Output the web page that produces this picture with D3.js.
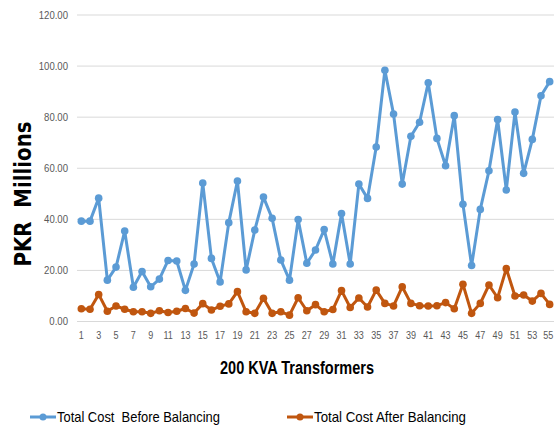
<!DOCTYPE html>
<html>
<head>
<meta charset="utf-8">
<script src="https://cdn.jsdelivr.net/npm/d3@7/dist/d3.min.js"></script>
<style>
  html, body { margin: 0; padding: 0; background: #fff; }
  svg { display: block; }
</style>
</head>
<body>
<svg id="chart" width="554" height="428"></svg>
<script>
// Transformer numbers 1..55
const transformers = d3.range(1, 56);

// Total cost before balancing (PKR millions)
const costBefore = [
  39.1, 39.1, 48.1, 16.0, 21.1, 35.2, 13.2, 19.4, 13.4, 16.4,
  23.7, 23.5, 12.0, 22.3, 54.0, 24.5, 15.3, 38.5, 54.8, 20.0,
  35.6, 48.5, 40.2, 23.9, 16.0, 39.7, 22.6, 27.8, 35.8, 22.3,
  42.1, 22.3, 53.6, 48.0, 68.1, 98.2, 81.0, 53.6, 72.3, 77.8,
  93.3, 71.5, 60.8, 80.4, 45.7, 21.7, 43.7, 58.8, 78.9, 51.3,
  81.8, 57.8, 71.1, 88.2, 93.7
];

// Total cost after balancing (PKR millions)
const costAfter = [
  4.8, 4.6, 10.4, 3.8, 5.9, 4.6, 3.6, 3.6, 3.0, 4.0,
  3.3, 3.8, 4.9, 3.1, 6.8, 4.3, 5.8, 6.7, 11.5, 3.6,
  3.0, 8.9, 3.0, 3.6, 2.3, 9.1, 4.0, 6.4, 3.6, 4.5,
  11.9, 5.3, 9.0, 5.5, 12.1, 6.9, 5.9, 13.4, 6.9, 6.0,
  5.9, 6.0, 7.2, 4.8, 14.4, 3.0, 6.9, 14.1, 9.1, 20.5,
  9.8, 10.2, 7.8, 10.8, 6.5
];

const yTicks = [0, 20, 40, 60, 80, 100, 120];
const xTickLabels = transformers.filter(n => n % 2 === 1);

const seriesNames = ["Total Cost  Before Balancing", "Total Cost After Balancing"];
const seriesColors = ["#5B9BD5", "#C0560F"];

const svg = d3.select("#chart");
const margin = { left: 77, right: 0, top: 14.5, bottom: 107 };
const W = 554, H = 428;

const x = d3.scaleBand()
  .domain(transformers)
  .range([margin.left, W - margin.right])
  .paddingInner(0).paddingOuter(0);

const y = d3.scaleLinear()
  .domain([0, 120])
  .range([H - margin.bottom, margin.top]);

const axisFont = "'Liberation Sans', Arial, sans-serif";

// Squeeze text horizontally to give a condensed face
function condense(sel, factor) {
  sel.each(function () {
    const len = this.getComputedTextLength();
    d3.select(this)
      .attr("textLength", len * factor)
      .attr("lengthAdjust", "spacingAndGlyphs");
  });
}

// Horizontal gridlines with y tick labels
const yAxis = d3.axisLeft(y)
  .tickValues(yTicks)
  .tickSize(-(W - margin.right - margin.left))
  .tickPadding(9)
  .tickFormat(d3.format(".2f"));

const gy = svg.append("g")
  .attr("transform", `translate(${margin.left},0)`)
  .call(yAxis);
gy.select(".domain").remove();
gy.selectAll(".tick line").attr("stroke", "#D9D9D9").attr("stroke-width", 1);
gy.selectAll(".tick text")
  .attr("fill", "#595959")
  .style("font-family", axisFont)
  .style("font-size", "11px")
  .call(condense, 0.87);

// Category axis: odd transformer numbers only
const xAxis = d3.axisBottom(x)
  .tickValues(xTickLabels)
  .tickSize(0)
  .tickPadding(10);

const gx = svg.append("g")
  .attr("transform", `translate(0,${y(0)})`)
  .call(xAxis);
gx.select(".domain").remove();
gx.selectAll(".tick text")
  .attr("fill", "#595959")
  .style("font-family", axisFont)
  .style("font-size", "11px")
  .call(condense, 0.82);
// keep the last label inside the right edge
gx.selectAll(".tick text")
  .filter(d => d === transformers[transformers.length - 1])
  .attr("dx", -1.5);

// Series lines with round markers
const cx = d => x(d) + x.bandwidth() / 2;
const line = d3.line()
  .x((d, i) => cx(transformers[i]))
  .y(d => y(d));

[costBefore, costAfter].forEach((vals, si) => {
  const g = svg.append("g");
  g.append("path")
    .datum(vals)
    .attr("fill", "none")
    .attr("stroke", seriesColors[si])
    .attr("stroke-width", 3)
    .attr("stroke-linejoin", "round")
    .attr("d", line);
  g.selectAll("circle")
    .data(vals)
    .join("circle")
    .attr("cx", (d, i) => cx(transformers[i]))
    .attr("cy", d => y(d))
    .attr("r", 3.8)
    .attr("fill", seriesColors[si]);
});

// Axis titles
svg.append("text")
  .attr("x", 297)
  .attr("y", 374)
  .attr("text-anchor", "middle")
  .attr("fill", "#000")
  .style("font-family", axisFont)
  .style("font-weight", "bold")
  .style("font-size", "18px")
  .attr("textLength", 154)
  .attr("lengthAdjust", "spacingAndGlyphs")
  .text("200 KVA Transformers");

svg.append("text")
  .attr("transform", "translate(31,194) rotate(-90)")
  .attr("text-anchor", "middle")
  .attr("fill", "#000")
  .style("font-family", "'DejaVu Sans', sans-serif")
  .style("font-weight", "bold")
  .style("font-size", "23px")
  .style("white-space", "pre")
  .attr("textLength", 145)
  .attr("lengthAdjust", "spacingAndGlyphs")
  .text("PKR  Millions");

// Legend
const legendItems = [
  { name: seriesNames[0], color: seriesColors[0], x: 30, w: 163 },
  { name: seriesNames[1], color: seriesColors[1], x: 287, w: 152 }
];
const lg = svg.append("g");
legendItems.forEach(it => {
  const g = lg.append("g").attr("transform", `translate(${it.x},417)`);
  g.append("line")
    .attr("x1", 0).attr("x2", 26)
    .attr("stroke", it.color).attr("stroke-width", 3);
  g.append("circle").attr("cx", 13).attr("r", 3.5).attr("fill", it.color);
  g.append("text")
    .attr("x", 27)
    .attr("dy", "0.35em")
    .attr("fill", "#000")
    .style("font-family", axisFont)
    .style("font-size", "15px")
    .style("white-space", "pre")
    .attr("textLength", it.w)
    .attr("lengthAdjust", "spacingAndGlyphs")
    .text(it.name);
});
</script>
</body>
</html>
